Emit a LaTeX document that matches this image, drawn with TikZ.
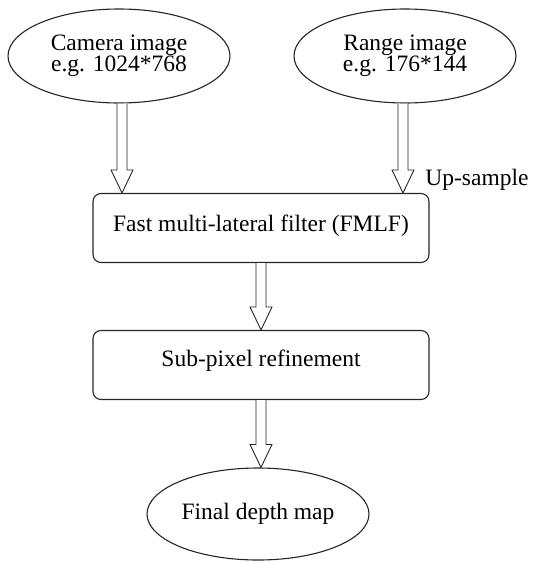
\documentclass[tikz,border=0pt]{standalone}
\usepackage{fontspec}
\setmainfont{Liberation Serif}
\usetikzlibrary{shapes.geometric,calc}
\tikzset{
  every node/.style={font=\fontsize{23.5}{21.5}\selectfont, text=black},
  oval/.style={draw=black!85, line width=1.1pt, ellipse, inner sep=0pt,
               minimum width=222pt, minimum height=94pt, align=center},
  stage/.style={draw=black!85, line width=1.1pt, rounded corners=8pt,
                minimum width=336pt, minimum height=69pt, align=center,
                text height=17pt},
  hollow/.style={draw=black!85, line width=0.9pt, fill=white, line join=miter},
}
% hollow block arrow from the bottom of #1 straight down to #2
\newcommand\hollowarrow[2]{%
  \draw[hollow] let \p1=(#1), \p2=(#2) in
    (\x1-5pt,\y1) -- (\x1-5pt,\y2+23pt) -- (\x1-11pt,\y2+23pt) -- (\x1,\y2)
    -- (\x1+11pt,\y2+23pt) -- (\x1+5pt,\y2+23pt) -- (\x1+5pt,\y1);}
\begin{document}
\begin{tikzpicture}[x=1pt,y=-1pt]
  \useasboundingbox (0,0) rectangle (535,562);

  \node[oval] (cam) at (119,56) {Camera image\\e.g. 1024*768};
  \node[oval] (rng) at (405,56) {Range image\\e.g. 176*144};
  \node[stage, text depth=11pt] (fmlf) at (261,228) {Fast multi-lateral filter (FMLF)};
  \node[stage, text depth=15pt] (sub) at (261,365) {Sub-pixel refinement};
  \node[oval, minimum height=92pt] (fin) at (258,514) {Final depth map};
  \node (up) at (477,180) {Up-sample};

  \coordinate (camsrc) at ($(cam.south)+(3,0)$);
  \coordinate (rngsrc) at ($(rng.south)+(-2,0)$);
  \hollowarrow{camsrc}{fmlf.north -| camsrc}
  \hollowarrow{rngsrc}{fmlf.north -| rngsrc}
  \hollowarrow{fmlf.south}{sub.north}
  \hollowarrow{sub.south}{fin.north -| sub.south}
\end{tikzpicture}
\end{document}
